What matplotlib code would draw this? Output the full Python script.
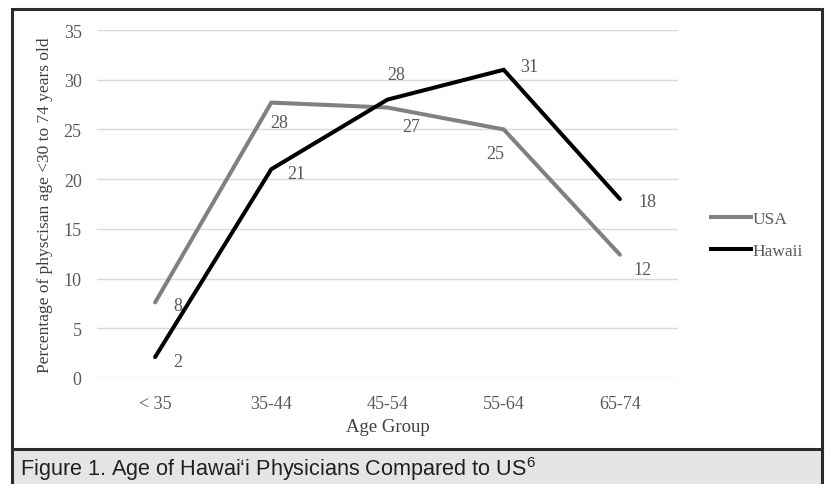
import matplotlib
matplotlib.use("Agg")
import matplotlib.pyplot as plt
from matplotlib.patches import Rectangle
from matplotlib.lines import Line2D

# Data
age_groups = ["< 35", "35-44", "45-54", "55-64", "65-74"]
usa = [7.6, 27.7, 27.2, 25.0, 12.4]
hawaii = [2.1, 21.0, 28.0, 31.0, 18.0]
series_names = ["USA", "Hawaii"]
y_ticks = [0, 5, 10, 15, 20, 25, 30, 35]

plt.rcParams["mathtext.fontset"] = "custom"
plt.rcParams["mathtext.rm"] = "Liberation Sans"
plt.rcParams["mathtext.it"] = "Liberation Sans"

W, H, DPI = 825, 485, 100
fig = plt.figure(figsize=(W / DPI, H / DPI), dpi=DPI)

serif = ["Liberation Serif", "DejaVu Serif"]
tick_color = "#595959"
fs = 13

ax = fig.add_axes([97 / W, 1 - 379 / H, (678 - 97) / W, (379 - 31) / H])
x = list(range(len(age_groups)))

usa_color = "#808080"
hi_color = "#000000"
ax.plot(x, usa, color=usa_color, lw=2.9, solid_joinstyle="miter",
        solid_capstyle="round", zorder=3)
ax.plot(x, hawaii, color=hi_color, lw=2.9, solid_joinstyle="miter",
        solid_capstyle="round", zorder=4)

# label offsets in points (dx, dy)
usa_off = [(16, -2), (6, -14), (17, -14), (-6, -17), (16, -11)]
hi_off = [(16, -3), (18, -3), (6, 18), (18, 2), (20, -2)]
for xi, v, off in zip(x, usa, usa_off):
    ax.annotate(f"{v:.0f}", (xi, v), xytext=off, textcoords="offset points",
                ha="center", va="center", fontsize=fs, family=serif,
                color=tick_color)
for xi, v, off in zip(x, hawaii, hi_off):
    ax.annotate(f"{v:.0f}", (xi, v), xytext=off, textcoords="offset points",
                ha="center", va="center", fontsize=fs, family=serif,
                color=tick_color)

ax.set_xlim(-0.5, len(age_groups) - 0.5)
ax.set_ylim(0, 35)
ax.set_yticks(y_ticks)
ax.set_xticks(x)
ax.set_xticklabels(age_groups)
ax.grid(axis="y", color="#d9d9d9", lw=1)
ax.set_axisbelow(True)
for s in ax.spines.values():
    s.set_visible(False)
ax.tick_params(length=0, labelsize=fs, colors=tick_color, pad=11)
ax.tick_params(axis="x", pad=12)
for lab in ax.get_xticklabels() + ax.get_yticklabels():
    lab.set_family(serif)
ax.set_xlabel("Age Group", family=serif, fontsize=13.5, color="#404040")
ax.xaxis.set_label_coords(0.5, (379 - 428) / 348)
ax.xaxis.label.set_va("center")
ax.set_ylabel("Percentage of physcisan age <30 to 74 years old", family=serif,
              fontsize=12.5, color="#404040")
ax.yaxis.set_label_coords((45 - 97) / 581, 0.5)
ax.yaxis.label.set_va("center")

# legend
leg_handles = [Line2D([], [], color=usa_color, lw=2.9),
               Line2D([], [], color=hi_color, lw=2.9)]
leg = fig.legend(leg_handles, series_names, loc="center left",
                 bbox_to_anchor=(711 / W, 1 - 236 / H), frameon=False,
                 borderpad=0, borderaxespad=0,
                 handlelength=2.3, handletextpad=0.1, labelspacing=0.95,
                 prop={"family": serif, "size": 12.5})
for t in leg.get_texts():
    t.set_color(tick_color)

# caption band and frame
fig.patches.append(Rectangle((12 / W, 0), (822 - 12) / W, (485 - 450) / H,
                             transform=fig.transFigure, facecolor="#e4e5e7",
                             edgecolor="none", zorder=0))
fig.add_artist(Line2D([12 / W, 822 / W], [1 - 450 / H, 1 - 450 / H],
                      transform=fig.transFigure, color="#2b2b2b", lw=2.2))
fig.add_artist(Line2D([12 / W, 12 / W, 822 / W, 822 / W],
                      [0, 1 - 10 / H, 1 - 10 / H, 0],
                      transform=fig.transFigure, color="#2b2b2b", lw=2.2,
                      solid_joinstyle="miter"))
fig.text(20 / W, 1 - 476 / H,
         "Figure 1. Age of Hawai\u2018i Physicians Compared to US$^{\\mathrm{6}}$",
         family=["Liberation Sans Narrow", "Liberation Sans", "DejaVu Sans"],
         fontsize=15.6, color="#231f20", va="baseline", ha="left")

fig.savefig("out.png", dpi=DPI)
